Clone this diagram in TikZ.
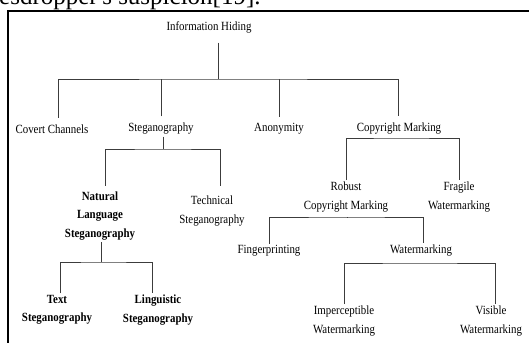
\documentclass[tikz,border=0pt]{standalone}
\usepackage{fontspec}
\setmainfont{Liberation Serif}[FakeStretch=0.87]
\newfontfamily\pagefont{Liberation Serif}
\usetikzlibrary{positioning}
\definecolor{LineGray}{RGB}{60,60,60}

\begin{document}
\begin{tikzpicture}[x=1pt, y=-1pt,
    term/.style={inner sep=0pt, outer sep=2pt, align=center, font=\fontsize{12.5}{18.5}\selectfont},
    boldterm/.style={term, font=\fontsize{12.5}{18.5}\selectfont\bfseries},
    branch/.style={draw=LineGray, line width=0.7pt}
  ]
    \useasboundingbox (0,0) rectangle (529,342);
    \clip (0,0) rectangle (529,342);

    % running text of the page and the frame
    \node[anchor=base west, inner sep=0pt, font=\pagefont\fontsize{25}{30}\selectfont] (pagetext) at (-1,5) {esdropper's suspicion[19].};
    \draw[line width=1.2pt] (8,343) -- (8,11) -- (530,11);

    \node[term] (ih) at (209,27) {Information Hiding};

    \node[term] (covert) at (52,129) {Covert Channels};
    \node[term] (stego) at (161,129) {Steganography};
    \node[term] (anon) at (279,129) {Anonymity};
    \node[term] (copymark) at (399,129) {Copyright Marking};

    \node[boldterm] (natlang) at (100,216) {Natural\\Language\\Steganography};
    \node[term] (technical) at (212,211) {Technical\\Steganography};
    \node[boldterm] (textsteg) at (57,310) {Text\\Steganography};
    \node[boldterm] (lingsteg) at (158,310) {Linguistic\\Steganography};

    \node[term] (robust) at (346,197) {Robust\\Copyright Marking};
    \node[term] (fragile) at (459,197) {Fragile\\Watermarking};
    \node[term] (finger) at (269,251) {Fingerprinting};
    \node[term] (wmark) at (421,251) {Watermarking};
    \node[term] (imperc) at (344,321) {Imperceptible\\Watermarking};
    \node[term] (visible) at (491,321) {Visible\\Watermarking};

    \coordinate (ihbar) at (218,79);
    \coordinate (stegobar) at (163,149);
    \coordinate (natbar) at (101,262);
    \coordinate (copybar) at (400,138);
    \coordinate (robbar) at (347,217);
    \coordinate (wmbar) at (420,263);

    \draw[branch] ([yshift=-8pt]ih.south -| ihbar) -- (ihbar);
    \draw[branch] ([xshift=6pt,yshift=5pt]covert.north) |- (ihbar) -| ([xshift=-1pt,yshift=5pt]copymark.north);
    \draw[branch] ([yshift=5pt]stego.north) -- (stego.north |- ihbar);
    \draw[branch] ([yshift=5pt]anon.north) -- (anon.north |- ihbar);

    \draw[branch] (stego.south -| stegobar) -- (stegobar);
    \draw[branch] ([xshift=5pt,yshift=4pt]natlang.north) |- (stegobar) -| ([xshift=8pt,yshift=8pt]technical.north);

    \draw[branch] (natlang.south -| natbar) -- (natbar);
    \draw[branch] ([xshift=3pt]textsteg.north) |- (natbar) -| ([xshift=-6pt]lingsteg.north);

    \draw[branch] (robust.north) |- (copybar) -| (fragile.north);

    \draw[branch] ([yshift=-4pt]robust.south -| robbar) -- (robbar);
    \draw[branch] (finger.north) |- (robbar) -| ([xshift=2pt]wmark.north);

    \draw[branch] (imperc.north) |- (wmbar) -| ([xshift=4pt]visible.north);
  \end{tikzpicture}
\end{document}
